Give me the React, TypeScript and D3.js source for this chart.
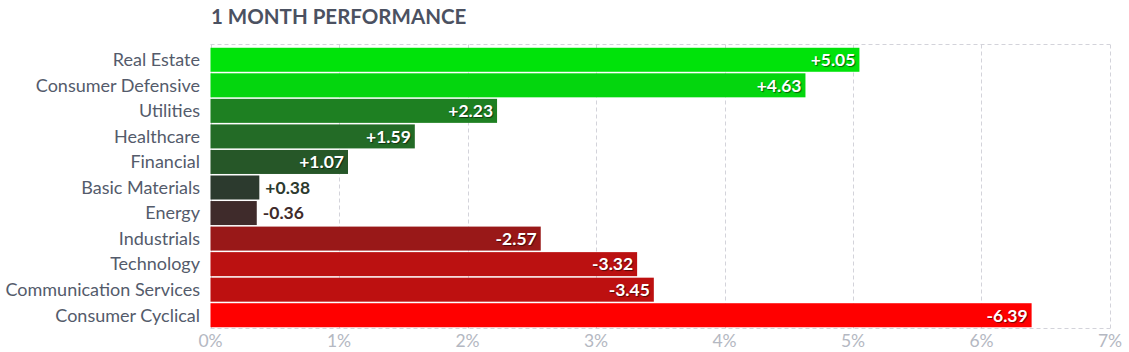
import * as d3 from "d3";

const sectors = [
  "Real Estate",
  "Consumer Defensive",
  "Utilities",
  "Healthcare",
  "Financial",
  "Basic Materials",
  "Energy",
  "Industrials",
  "Technology",
  "Communication Services",
  "Consumer Cyclical",
];
const changes = [5.05, 4.63, 2.23, 1.59, 1.07, 0.38, -0.36, -2.57, -3.32, -3.45, -6.39];
const barColors = [
  "#00e30a", "#04d60e", "#1e8022", "#236b26", "#265728",
  "#2c3a2e", "#3f2b2b", "#991818", "#bb1111", "#bd1010", "#ff0000",
];
const ticks = [0, 1, 2, 3, 4, 5, 6, 7];

const W = 1129;
const H = 352;
const margin = { top: 44.5, right: 19, bottom: 24, left: 210.5 };
const FONT = "Lato, 'Open Sans', sans-serif";

export default function App() {
  const x = d3.scaleLinear().domain([0, 7]).range([margin.left, W - margin.right]);
  const y = d3
    .scaleBand<string>()
    .domain(sectors)
    .range([margin.top + 2.5, H - margin.bottom])
    .paddingInner(0.06)
    .paddingOuter(0.03);
  const rows = sectors.map((s, i) => ({ name: s, v: changes[i], color: barColors[i] }));
  const fmt = (v: number) => (v > 0 ? "+" : "") + v.toFixed(2);
  const bottom = H - margin.bottom + 0.5;

  return (
    <svg
      width={W}
      height={H}
      style={{ position: "absolute", left: 0, top: 0, background: "#fff" }}
      fontFamily={FONT}
    >
      <text x={211} y={24} fontSize={20.5} fontWeight={700} fill="#4b5161">
        1 MONTH PERFORMANCE
      </text>

      {/* grid */}
      <g stroke="#d3d3da" strokeWidth={1} strokeDasharray="4,3" fill="none">
        <line x1={x(0)} x2={x(7)} y1={margin.top} y2={margin.top} />
        <line x1={x(0)} x2={x(7)} y1={bottom} y2={bottom} />
        {ticks.map((t) => (
          <line key={t} x1={Math.round(x(t)) + 0.5} x2={Math.round(x(t)) + 0.5} y1={margin.top} y2={bottom} />
        ))}
      </g>

      {/* tick labels */}
      {ticks.map((t) => (
        <text key={t} x={x(t)} y={347} textAnchor="middle" fontSize={17.5} fill="#b4b8c2">
          {t}%
        </text>
      ))}

      {/* bars */}
      {rows.map((d) => {
        const y0 = y(d.name)!;
        const w = x(Math.abs(d.v)) - x(0);
        const inside = w > 60;
        const cy = y0 + y.bandwidth() / 2;
        return (
          <g key={d.name}>
            <text x={200} y={cy} dy="0.35em" textAnchor="end" fontSize={18} fill="#545b6b">
              {d.name}
            </text>
            <rect x={x(0)} y={y0} width={w} height={y.bandwidth()} fill={d.color} />
            <text
              x={inside ? x(Math.abs(d.v)) - 4 : x(Math.abs(d.v)) + 6}
              y={cy}
              dy="0.36em"
              textAnchor={inside ? "end" : "start"}
              fontSize={17.5}
              fontWeight={700}
              fill={inside ? "#fff" : d.color}
              style={inside ? { textShadow: "1px 1px 1px rgba(0,0,0,0.55)" } : undefined}
            >
              {fmt(d.v)}
            </text>
          </g>
        );
      })}
    </svg>
  );
}
